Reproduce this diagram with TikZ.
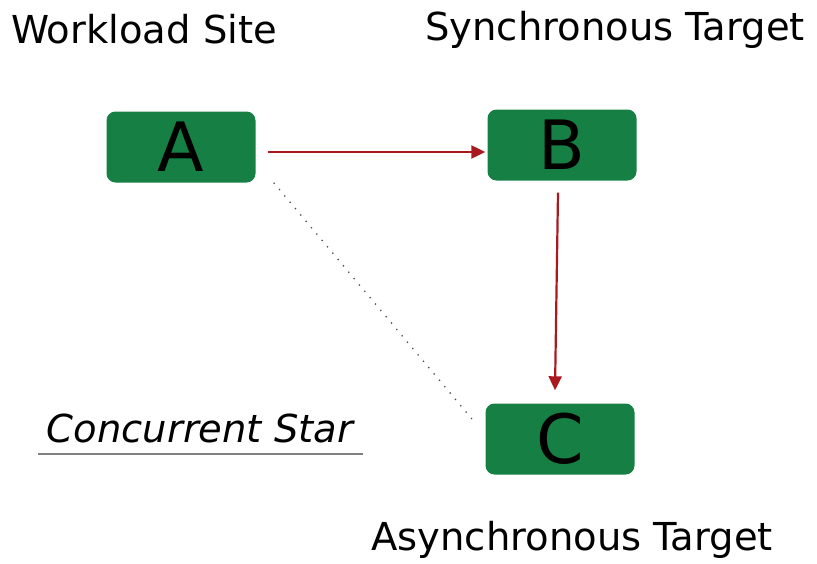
\documentclass[tikz,border=0pt]{standalone}
\usepackage{fontspec}
\setmainfont{DejaVu Sans}
\usetikzlibrary{arrows.meta}
\definecolor{boxgreen}{RGB}{22,128,68}
\definecolor{arrred}{RGB}{170,25,30}
\begin{document}
\begin{tikzpicture}[x=1pt,y=-1pt,
  site/.style={fill=boxgreen,rounded corners=9pt,minimum width=149pt,minimum height=71pt,inner sep=0pt,font=\fontsize{68}{68}\selectfont,text=black},
  lbl/.style={font=\fontsize{38.5}{40}\selectfont,inner sep=0pt,anchor=base},
  flow/.style={draw=arrred,line width=2.2pt,-{Triangle[length=14pt,width=13pt]}}]
\useasboundingbox (0,0) rectangle (817,563);
\node[site] (A) at (181,147) {A};
\node[site] (B) at (562,145) {B};
\node[site] (C) at (560,439) {C};
\node[lbl] (wl) at (144,43) {Workload Site};
\node[lbl] (st) at (615,40) {Synchronous Target};
\node[lbl] (at) at (572,550) {Asynchronous Target};
\node[lbl,font=\fontsize{38.5}{40}\selectfont\itshape] (cs) at (200,442) {Concurrent Star};
\coordinate (u1) at (38,454);
\coordinate (u2) at (363,454);
\draw[gray,line width=1.3pt] (u1) -- (u2);
\draw[flow] ([xshift=12pt,yshift=-5pt]A.east) -- ([xshift=-2pt,yshift=-7pt]B.west);
\draw[flow] ([xshift=-4pt,yshift=-12pt]B.south) -- ([xshift=-5pt,yshift=13pt]C.north);
\draw[black!70,line width=1.3pt,dash pattern=on 1.3pt off 7pt] ([xshift=18pt,yshift=0pt]A.south east) -- ([xshift=-10pt,yshift=16pt]C.west);
\end{tikzpicture}
\end{document}
